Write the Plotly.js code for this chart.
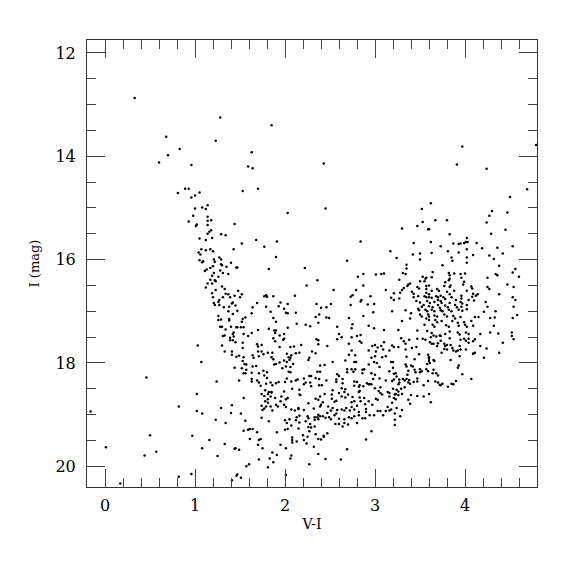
<!DOCTYPE html>
<html>
<head>
<meta charset="utf-8">
<script src="https://cdn.plot.ly/plotly-3.0.1.min.js"></script>
<style>html,body{margin:0;padding:0;background:#fff;}#chart{width:575px;height:575px;}</style>
</head>
<body>
<div id="chart"></div>
<script>
// Colour–magnitude diagram: V-I colour vs I magnitude
const vi = [
0.33,1.28,0.68,1.23,0.83,0.70,0.60,0.96,0.89,0.93,
1.85,1.63,1.59,1.64,2.43,1.70,
3.97,4.79,3.91,4.24,4.69,
0.81,1.05,1.00,0.96,1.14,1.08,1.12,1.00,0.98,1.14,0.93,1.14,1.18,1.02,1.01,1.14,1.44,1.18,1.16,1.14,1.29,1.34,1.19,1.05,1.12,1.43,1.07,1.17,1.20,1.12,1.04,1.06,1.21,1.27,1.05,1.09,1.08,1.29,1.22,1.40,1.29,1.30,1.20,1.17,1.13,1.11,1.35,1.46,1.28,1.21,1.31,1.37,1.26,1.19,1.17,1.22,1.23,1.14,1.19,1.12,1.30,1.33,1.23,1.19,1.34,1.37,1.44,1.31,1.20,1.27,1.39,1.42,1.41,1.21,1.26,1.22,1.27,1.32,1.38,1.45,1.37,1.42,1.26,1.29,1.26,1.38,1.38,1.28,1.30,1.40,1.46,1.34,1.43,1.42,1.31,1.33,1.43,1.39,
1.53,2.45,2.03,1.52,1.68,1.91,1.77,2.84,1.90,2.69,1.47,1.82,2.22,2.87,2.81,3.01,3.07,3.10,2.36,2.24,2.87,2.54,2.79,3.12,1.48,1.52,1.50,1.77,1.79,1.80,1.87,2.11,2.73,2.75,2.95,2.85,2.84,1.95,2.03,1.69,2.35,2.51,2.99,2.92,1.64,1.79,1.93,1.99,2.40,2.46,2.73,1.47,1.84,2.01,2.03,2.12,2.38,2.98,1.63,1.56,1.53,1.52,1.87,1.90,2.34,2.46,2.49,2.71,2.87,2.13,2.23,2.28,2.37,1.47,1.51,1.54,1.82,1.88,1.90,2.03,1.70,2.58,2.75,2.74,2.93,2.99,3.10,1.54,1.59,1.63,1.89,1.94,1.99,2.60,2.63,2.74,2.80,2.84,1.87,1.99,2.35,2.58,
4.50,3.62,3.52,4.30,4.47,4.27,3.67,3.80,3.53,4.24,3.47,3.30,3.59,3.60,4.45,3.83,4.29,4.02,3.62,3.43,3.87,3.93,3.95,3.99,4.01,4.03,4.13,4.53,3.73,4.19,4.36,3.17,3.81,3.93,4.02,3.42,3.50,3.63,4.42,4.09,4.27,3.24,3.50,3.85,3.86,4.32,4.02,4.02,3.75,3.35,3.35,4.38,4.56,3.64,3.31,3.34,3.82,3.83,3.88,3.95,4.00,4.53,4.34,4.36,4.60,4.25,3.53,3.57,3.63,3.83,3.82,3.96,3.27,3.39,3.37,3.50,3.56,3.55,3.78,3.99,3.98,4.47,3.60,3.77,3.84,3.83,3.36,3.47,3.49,3.57,3.57,4.07,4.08,4.25,4.27,4.54,3.32,3.30,3.63,3.69,3.71,3.88,4.02,3.21,3.28,3.41,3.43,3.57,3.60,3.80,3.83,3.96,3.96,4.09,4.12,4.14,4.08,4.38,3.18,3.21,3.27,3.43,3.48,3.55,3.57,3.60,3.63,3.68,3.70,3.73,3.76,3.78,3.85,3.90,4.04,4.10,4.23,4.53,4.56,3.46,3.50,3.58,3.61,3.66,3.70,3.73,3.74,3.83,3.95,3.97,3.54,3.52,3.60,3.64,3.70,3.72,3.78,3.81,3.89,3.91,3.96,4.02,4.25,4.54,3.19,3.34,3.48,3.49,3.56,3.58,3.63,3.66,3.73,3.75,3.82,3.85,3.93,3.97,4.02,4.21,4.34,3.40,3.50,3.52,3.59,3.60,3.66,3.69,3.77,3.80,3.87,3.89,3.95,4.11,4.15,4.28,4.33,4.58,3.30,3.39,3.57,3.60,3.67,3.69,3.74,3.86,3.92,3.99,4.07,4.53,3.55,3.64,3.66,3.79,3.82,3.93,4.00,4.02,4.09,4.32,3.26,3.47,3.58,3.63,3.65,3.72,3.78,3.83,3.92,3.94,4.01,4.04,4.17,4.28,4.37,4.52,3.29,3.47,3.53,3.62,3.68,3.73,3.83,3.99,4.04,4.11,4.52,4.54,
1.03,1.30,1.33,1.39,1.42,1.45,1.41,1.41,1.46,1.07,1.44,0.46,1.24,1.02,-0.16,0.82,1.02,1.08,1.29,1.41,1.40,1.23,1.34,0.50,0.97,1.16,0.01,1.08,1.33,1.44,1.45,0.44,0.57,1.25,0.82,0.96,0.17,1.41,1.46,
1.53,1.53,1.69,1.70,1.74,1.89,1.98,1.94,2.10,2.06,2.18,2.37,2.37,2.47,2.71,2.85,2.83,2.97,3.00,3.03,3.07,3.09,3.10,1.49,1.54,1.64,1.65,1.70,1.71,1.74,1.76,1.81,1.86,1.85,1.87,2.02,2.04,2.07,2.06,2.12,2.16,1.94,2.27,2.30,2.34,2.53,2.67,2.71,2.74,2.77,2.79,2.78,2.93,2.96,3.00,3.01,3.08,3.12,1.53,1.55,1.52,1.57,1.57,1.64,1.63,1.68,1.56,1.54,1.71,1.76,1.80,1.88,1.90,1.99,2.02,2.05,2.01,2.06,2.09,1.97,2.04,2.06,2.26,2.39,2.44,2.36,2.39,2.29,2.27,2.60,2.58,2.69,2.74,2.78,2.88,2.86,2.69,2.76,2.93,2.86,2.96,3.00,3.05,2.99,3.02,
1.49,1.63,1.63,1.69,1.71,1.77,1.80,1.79,1.84,1.86,1.90,1.93,1.73,2.02,2.00,2.07,2.12,2.14,2.16,2.08,1.99,1.85,1.78,1.82,2.21,2.21,2.23,2.34,2.38,2.28,2.29,2.38,2.41,2.46,2.53,2.57,2.57,2.64,2.64,2.63,2.67,2.60,2.77,2.77,2.80,2.82,2.83,2.91,2.93,2.94,2.96,2.87,2.98,3.05,3.00,3.04,3.06,3.12,2.82,2.83,
1.54,1.74,1.77,1.81,1.81,1.78,1.81,1.85,1.84,1.89,1.96,1.95,2.03,2.01,2.16,2.17,2.26,2.34,2.37,2.39,2.44,2.42,2.57,2.55,2.52,2.52,2.63,2.66,2.67,2.70,2.75,2.74,2.77,2.83,2.84,2.88,2.93,2.97,3.01,3.03,3.06,3.08,3.03,3.06,3.12,3.09,
1.74,1.79,1.84,1.75,1.77,1.86,1.90,1.92,1.99,2.01,2.07,2.11,2.15,2.15,2.21,2.32,2.39,2.40,2.48,2.51,2.53,2.58,2.63,2.66,2.68,2.74,2.72,2.77,2.82,2.80,2.89,2.90,
1.51,1.74,1.82,1.56,2.00,2.02,2.05,2.13,2.16,2.12,2.16,2.23,2.07,2.25,2.26,2.28,2.29,2.27,2.33,2.36,2.37,2.33,2.39,2.42,2.45,2.47,2.51,2.49,2.55,2.57,2.56,2.60,2.60,2.64,2.66,2.66,2.71,2.70,2.74,2.80,2.77,2.82,2.86,2.89,2.90,2.94,2.99,
1.64,1.59,1.61,1.54,1.91,2.00,2.03,2.15,2.20,2.21,2.26,2.25,2.34,2.37,2.40,2.43,2.33,2.37,1.69,1.71,1.73,1.61,1.70,1.75,1.95,2.01,2.08,2.08,2.08,2.13,2.24,2.32,2.43,2.47,2.69,2.90,2.96,1.49,1.91,1.86,1.83,1.71,1.87,1.81,2.06,2.07,2.37,2.45,2.62,2.27,1.60,1.57,1.47,1.51,2.01,
3.19,3.21,3.26,3.32,3.34,3.38,3.41,3.46,3.16,3.34,3.56,3.61,3.63,3.65,3.69,3.70,3.73,3.78,3.77,3.80,3.84,3.86,3.87,3.90,3.92,3.94,3.95,3.80,3.74,3.77,4.01,4.04,4.09,4.09,4.11,4.09,4.17,4.24,4.42,4.38,4.21,4.01,3.95,3.18,3.20,3.35,3.49,3.59,3.60,3.60,3.60,3.65,3.66,3.44,3.84,3.94,3.34,3.35,3.40,3.42,3.58,3.61,3.44,3.50,3.37,3.52,3.50,3.20,3.23,3.21,3.16,3.57,3.59,3.65,3.68,3.70,3.64,3.93,3.92,3.97,4.07,3.36,3.45,3.27,3.27,3.31,3.33,3.35,3.38,3.37,3.39,3.43,3.19,3.21,3.24,3.47,3.47,3.54,3.59,3.67,3.70,3.72,3.75,3.73,3.81,3.85,3.87,3.90,3.26,3.33,3.29,3.26,3.14,3.16,3.20,3.22,3.24,3.23,3.26,3.16,3.21,3.23,3.40,3.47,3.54,3.60,3.37,3.39,3.62,3.30,3.19,3.14,3.16,3.24,3.30,3.22,3.28,3.22,3.22,3.18
];
const imag = [
12.87,13.25,13.62,13.70,13.86,13.98,14.12,14.17,14.63,14.63,
13.40,13.92,14.20,14.23,14.14,14.63,
13.81,13.78,14.16,14.24,14.64,
14.71,14.70,14.76,14.80,14.95,14.99,15.02,15.01,15.15,15.17,15.26,15.25,15.24,15.32,15.35,15.33,15.31,15.43,15.46,15.50,15.51,15.53,15.58,15.59,15.62,15.80,15.80,15.80,15.84,15.82,15.86,15.90,16.00,15.96,16.01,16.03,16.05,16.00,16.04,16.06,16.09,16.11,16.13,16.16,16.19,16.22,16.14,16.15,16.21,16.26,16.26,16.28,16.33,16.31,16.39,16.40,16.42,16.46,16.46,16.54,16.52,16.57,16.59,16.65,16.66,16.67,16.70,16.73,16.73,16.78,16.73,16.83,16.85,16.84,16.82,16.88,16.88,16.92,16.91,16.89,17.00,17.05,17.09,17.16,17.17,17.15,17.18,17.30,17.30,17.30,17.31,17.35,17.41,17.44,17.48,17.47,17.49,17.51,
14.67,15.01,15.10,15.69,15.62,15.65,15.75,15.65,15.95,16.02,16.15,16.18,16.16,16.28,16.33,16.29,16.28,16.27,16.40,16.50,16.50,16.59,16.59,16.59,16.60,16.67,16.73,16.71,16.69,16.72,16.71,16.70,16.72,16.69,16.71,16.78,16.81,16.83,16.86,16.84,16.86,16.86,16.86,16.87,16.92,16.91,16.90,16.95,16.93,16.92,16.88,16.99,17.01,17.03,17.04,17.03,17.06,17.02,17.04,17.12,17.15,17.20,17.13,17.20,17.11,17.12,17.13,17.13,17.09,17.24,17.26,17.29,17.22,17.31,17.31,17.31,17.34,17.37,17.37,17.32,17.36,17.30,17.25,17.33,17.28,17.33,17.36,17.44,17.48,17.42,17.42,17.47,17.44,17.44,17.50,17.50,17.48,17.46,17.52,17.53,17.54,17.54,
14.79,14.91,15.02,15.06,15.09,15.15,15.24,15.24,15.27,15.28,15.35,15.40,15.41,15.41,15.42,15.51,15.50,15.58,15.66,15.68,15.69,15.70,15.69,15.68,15.66,15.66,15.68,15.74,15.74,15.78,15.77,15.84,15.84,15.86,15.80,15.90,15.88,15.87,15.88,15.91,15.92,15.97,16.00,15.96,16.02,15.99,15.96,16.06,16.11,16.10,16.17,16.12,16.18,16.24,16.26,16.28,16.26,16.30,16.27,16.28,16.27,16.25,16.28,16.30,16.33,16.35,16.33,16.35,16.34,16.37,16.40,16.35,16.39,16.46,16.48,16.42,16.37,16.42,16.44,16.43,16.48,16.48,16.50,16.51,16.50,16.53,16.51,16.53,16.56,16.51,16.57,16.52,16.56,16.53,16.57,16.53,16.55,16.59,16.60,16.57,16.60,16.60,16.60,16.65,16.64,16.62,16.66,16.64,16.67,16.62,16.67,16.70,16.75,16.66,16.70,16.67,16.72,16.67,16.74,16.78,16.75,16.73,16.71,16.71,16.73,16.73,16.74,16.71,16.73,16.70,16.73,16.76,16.73,16.78,16.78,16.79,16.82,16.73,16.78,16.80,16.83,16.80,16.84,16.82,16.78,16.80,16.84,16.84,16.82,16.85,16.88,16.91,16.90,16.92,16.88,16.93,16.89,16.92,16.88,16.92,16.91,16.88,16.91,16.91,17.00,16.98,16.95,16.98,16.97,17.00,16.97,17.00,16.98,17.00,16.97,17.00,16.97,16.99,16.96,17.01,17.00,17.04,17.06,17.10,17.06,17.10,17.08,17.10,17.06,17.10,17.09,17.14,17.11,17.11,17.11,17.13,17.12,17.07,17.19,17.14,17.14,17.17,17.17,17.21,17.19,17.19,17.22,17.21,17.19,17.13,17.26,17.26,17.30,17.27,17.30,17.28,17.26,17.30,17.28,17.28,17.36,17.37,17.38,17.42,17.47,17.47,17.44,17.39,17.41,17.45,17.41,17.44,17.44,17.41,17.43,17.48,17.52,17.53,17.53,17.50,17.49,17.48,17.52,17.53,17.53,17.54,17.41,17.54,
17.66,17.66,17.78,17.56,17.56,17.60,17.78,17.84,17.88,17.98,18.09,18.28,18.36,18.60,18.94,18.84,18.93,18.98,18.87,18.82,18.97,19.10,19.16,19.40,19.41,19.49,19.63,19.65,19.57,19.66,19.65,19.79,19.72,19.80,20.20,20.15,20.33,20.27,20.18,
17.61,17.71,17.64,17.68,17.65,17.58,17.55,17.69,17.68,17.69,17.65,17.56,17.64,17.67,17.63,17.61,17.58,17.67,17.65,17.70,17.67,17.74,17.60,17.86,17.89,17.85,17.90,17.78,17.87,17.78,17.83,17.80,17.80,17.89,17.93,17.82,17.89,17.85,17.90,17.81,17.80,17.99,17.90,17.78,17.81,17.98,17.95,17.84,17.76,17.98,17.98,17.85,17.76,17.90,17.87,17.78,17.89,17.87,17.96,18.02,18.10,18.03,18.13,18.07,18.19,18.06,18.20,18.20,18.20,18.15,18.18,18.03,18.02,17.95,17.98,17.94,18.07,18.08,18.02,18.10,18.17,18.18,17.94,18.05,18.04,18.17,18.17,18.25,18.25,18.25,18.22,18.12,18.12,18.12,18.12,18.13,18.18,18.17,18.03,18.20,18.20,18.23,18.08,17.98,18.00,
18.34,18.31,18.36,18.34,18.38,18.24,18.29,18.40,18.38,18.43,18.39,18.37,18.44,18.30,18.37,18.36,18.34,18.32,18.52,18.50,18.55,18.56,18.53,18.56,18.30,18.41,18.38,18.29,18.31,18.38,18.45,18.43,18.43,18.34,18.53,18.32,18.37,18.31,18.39,18.49,18.51,18.58,18.36,18.44,18.37,18.46,18.43,18.39,18.41,18.41,18.41,18.45,18.31,18.30,18.49,18.54,18.47,18.34,18.56,18.54,
18.68,18.60,18.64,18.60,18.70,18.74,18.77,18.57,18.65,18.68,18.65,18.74,18.68,18.70,18.61,18.62,18.78,18.69,18.71,18.65,18.60,18.76,18.73,18.75,18.61,18.69,18.65,18.56,18.67,18.61,18.66,18.76,18.74,18.67,18.74,18.68,18.74,18.81,18.69,18.71,18.58,18.61,18.93,18.93,18.93,19.01,
18.83,18.84,18.84,18.91,18.88,18.92,18.81,18.84,18.81,18.85,18.90,18.92,18.89,18.87,18.91,18.88,18.84,18.81,18.84,18.92,18.87,18.91,18.90,18.92,18.87,18.85,18.92,18.90,18.95,18.83,18.80,18.89,
18.98,19.06,19.13,19.12,19.11,19.16,19.09,19.05,19.02,19.11,19.15,19.13,19.21,19.03,19.07,19.18,19.25,19.32,19.05,19.05,19.00,19.23,19.03,19.03,19.06,18.97,19.09,19.05,19.01,18.98,19.18,19.18,19.08,19.23,19.16,19.09,19.05,19.19,19.07,19.16,19.03,19.01,19.07,19.07,18.95,19.01,19.01,
19.28,19.29,19.28,19.31,19.34,19.29,19.28,19.27,19.40,19.49,19.24,19.43,19.38,19.47,19.48,19.43,19.10,19.09,19.34,19.49,19.47,19.47,19.58,19.65,19.58,19.65,19.44,19.49,19.54,19.52,19.56,19.62,19.41,19.36,19.67,19.48,19.32,19.68,19.78,19.73,19.85,19.87,19.92,20.02,19.85,19.79,19.76,19.86,19.87,19.96,19.96,20.00,20.16,20.22,20.17,
17.66,17.69,17.69,17.58,17.63,17.55,17.71,17.69,17.76,17.74,17.55,17.60,17.63,17.63,17.67,17.62,17.57,17.67,17.63,17.65,17.65,17.71,17.76,17.78,17.76,17.67,17.74,17.74,17.80,17.73,17.74,17.61,17.58,17.82,17.80,17.82,17.67,17.72,17.61,17.80,17.90,17.57,17.55,17.98,17.98,17.88,17.83,17.84,17.89,17.92,17.96,17.94,17.96,17.93,17.94,17.87,18.03,18.07,18.05,18.07,18.02,18.00,18.13,18.12,18.15,18.16,18.18,18.09,18.20,18.21,18.16,18.12,18.16,18.13,18.20,18.24,18.20,18.05,18.09,18.22,18.31,18.23,18.18,18.32,18.38,18.31,18.34,18.31,18.33,18.38,18.40,18.37,18.35,18.32,18.26,18.30,18.36,18.43,18.35,18.36,18.38,18.42,18.40,18.43,18.46,18.40,18.41,18.35,18.41,18.47,18.50,18.55,18.56,18.58,18.50,18.61,18.52,18.60,18.62,18.65,18.68,18.70,18.62,18.64,18.65,18.60,18.71,18.79,18.76,18.60,18.77,18.85,18.92,18.87,18.91,18.98,19.03,19.10,19.20,18.90
];

const xTicks = [0, 1, 2, 3, 4];
const yTicks = [12, 14, 16, 18, 20];

const n = Math.min(vi.length, imag.length);
const trace = {
  x: vi.slice(0, n), y: imag.slice(0, n),
  type: 'scatter', mode: 'markers',
  marker: {color: '#000', size: 2.5, line: {width: 0}},
  hoverinfo: 'skip'
};

const axisCommon = {
  showgrid: false, zeroline: false,
  showline: true, linecolor: '#333', linewidth: 1,
  mirror: 'ticks', ticks: 'inside', ticklen: 18, tickwidth: 1, tickcolor: '#444',
  tickfont: {family: 'DejaVu Serif, serif', size: 16, color: '#000'}
};

const layout = {
  width: 575, height: 575,
  margin: {l: 87, r: 38, t: 40, b: 88},
  paper_bgcolor: '#fff', plot_bgcolor: '#fff',
  showlegend: false,
  xaxis: Object.assign({}, axisCommon, {
    range: [-0.2, 4.8], tickmode: 'array', tickvals: xTicks, ticktext: xTicks.map(String),
    minor: {dtick: 0.2, tick0: 0, ticks: 'inside', ticklen: 9, tickwidth: 1, tickcolor: '#444'},
    ticklabelstandoff: 4,
    title: {text: 'V-I', font: {family: 'DejaVu Serif, serif', size: 14, color: '#000'}, standoff: 4}
  }),
  yaxis: Object.assign({}, axisCommon, {
    range: [20.4, 11.75], tickmode: 'array', tickvals: yTicks, ticktext: yTicks.map(String),
    minor: {dtick: 0.5, tick0: 12, ticks: 'inside', ticklen: 9, tickwidth: 1, tickcolor: '#444'},
    ticklabelstandoff: 7,
    title: {text: 'I (mag)', font: {family: 'DejaVu Serif, serif', size: 13, color: '#000'}, standoff: 12}
  })
};

Plotly.newPlot('chart', [trace], layout, {displayModeBar: false, staticPlot: true});
</script>
</body>
</html>
